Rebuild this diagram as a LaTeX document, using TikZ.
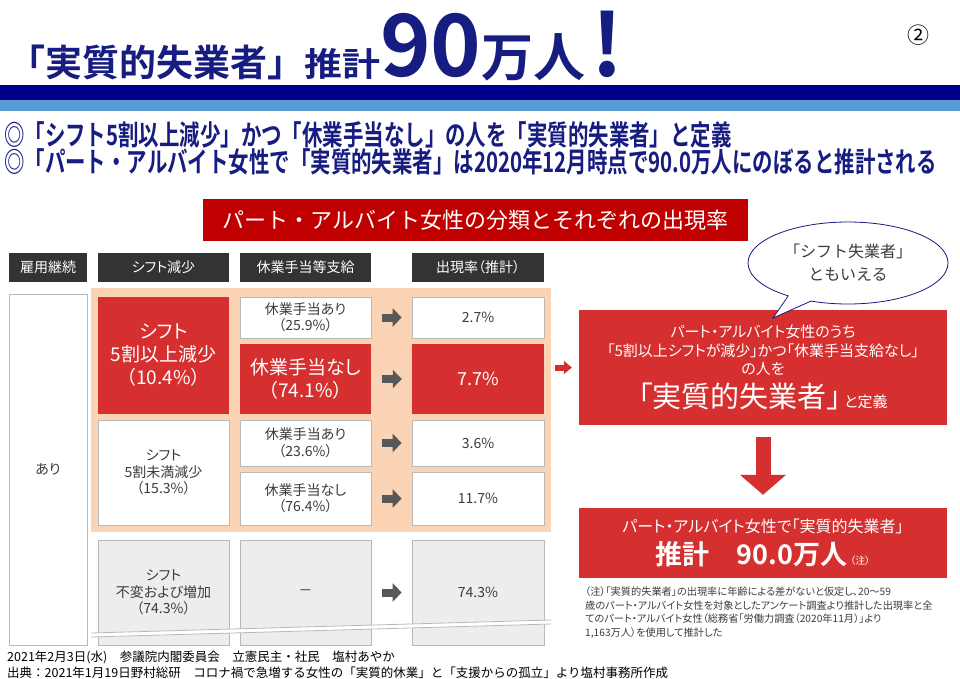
\documentclass[tikz,border=0pt]{standalone}
\usepackage{fontspec}
\setmainfont{Noto Sans CJK JP}[RawFeature=+palt, BoldFont={Noto Sans CJK JP Bold}]
\newfontfamily\jpfull{Noto Sans CJK JP}[BoldFont={Noto Sans CJK JP Bold}]
\newfontfamily\jpnarrow{Noto Sans CJK JP}[FakeStretch=0.73, BoldFont={Noto Sans CJK JP Bold}]
\newfontfamily\jpwide{Noto Sans CJK JP}[FakeStretch=1.15, BoldFont={Noto Sans CJK JP Bold}]
\usetikzlibrary{arrows.meta,shapes.callouts}

\definecolor{titlenavy}{RGB}{22,28,128}
\definecolor{barblue}{RGB}{0,0,140}
\definecolor{barlight}{RGB}{91,155,213}
\definecolor{bannerred}{RGB}{192,0,0}
\definecolor{cellred}{RGB}{214,47,47}
\definecolor{peach}{RGB}{250,212,180}
\definecolor{headgray}{RGB}{51,51,51}
\definecolor{linegray}{RGB}{185,185,185}
\definecolor{pale}{RGB}{237,237,237}
\definecolor{txtgray}{RGB}{60,60,60}
\definecolor{arrgray}{RGB}{88,88,88}
\newcommand{\fsz}[2]{\fontsize{#1}{#2}\selectfont}

\begin{document}
\begin{tikzpicture}[x=1pt, y=-1pt,
  head/.style={fill=headgray, text=white, minimum height=29, inner sep=0, font=\fsz{14}{16}},
  cell/.style={draw=linegray, fill=white, text=txtgray, align=center, inner sep=0, line width=0.7pt, font=\fsz{14}{16.5}},
  palecell/.style={cell, fill=pale},
  redcell/.style={fill=cellred, text=white, align=center, inner sep=0},
  garrow/.style={draw=arrgray, line width=8pt, -{Triangle[width=18pt,length=9pt]}, shorten <=11pt, shorten >=10pt},
  rarrow/.style={draw=cellred, line width=6pt, -{Triangle[width=13pt,length=8pt]}, shorten <=11pt, shorten >=7pt},
  darrow/.style={draw=cellred, line width=15pt, -{Triangle[width=45pt,length=20pt]}, shorten <=12pt, shorten >=13pt}]
  \useasboundingbox (0,0) rectangle (960,679);
  \fill[white] (0,0) rectangle (960,679);

  % Title
  \node[anchor=base west, inner sep=0, text=titlenavy, font=\jpfull\bfseries] (title) at (8,77)
    {\fsz{37}{40}「実質的失業者」{\jpwide\fsz{33}{36}推計}\fsz{86}{90}90\fsz{52}{60}万人\fsz{86}{90}\hspace{6pt}!};
  \node[font=\jpfull\fsz{22}{24}] (pagenum) at (918,35) {②};
  \fill[barblue] (0,85) rectangle (960,100);
  \fill[barlight] (0,100) rectangle (960,111);

  % Lead lines
  \node[anchor=west, inner sep=0, text=titlenavy, font=\jpnarrow\bfseries\fsz{28}{30}] (lead1) at (4,135)
    {◎「シフト5割以上減少」かつ「休業手当なし」の人を「実質的失業者」と定義};
  \node[anchor=west, inner sep=0, text=titlenavy, font=\jpnarrow\bfseries\fsz{28}{30}] (lead2) at (4,162)
    {◎「パート・アルバイト女性で「実質的失業者」は2020年12月時点で90.0万人にのぼると推計される};

  % Banner
  \node[fill=bannerred, text=white, minimum width=545, minimum height=42, inner sep=0, font=\jpfull\fsz{22}{24}] (banner) at (475.5,220)
    {パート・アルバイト女性の分類とそれぞれの出現率};

  % Table heads
  \node[head, minimum width=78] (h0) at (48,267.5) {雇用継続};
  \node[head, minimum width=131] (h1) at (163.5,267.5) {シフト減少};
  \node[head, minimum width=131] (h2) at (305.5,267.5) {休業手当等支給};
  \node[head, minimum width=132] (h3) at (478,267.5) {出現率（推計）};

  % Shaded band
  \fill[peach] (91,288) rectangle (551,532);

  % Cells
  \node[cell, minimum width=78, minimum height=351] (emp) at (48,469.5) {あり};
  \node[redcell, minimum width=131, minimum height=117, font=\fsz{19}{23}] (s1) at (163.5,355.5) {シフト\\5割以上減少\\（10.4\%）};
  \node[cell, minimum width=131, minimum height=105] (s2) at (163.5,472.5) {シフト\\5割未満減少\\（15.3\%）};
  \node[palecell, minimum width=131, minimum height=105] (s3) at (163.5,592.5) {シフト\\不変および増加\\（74.3\%）};

  \node[cell, minimum width=131, minimum height=41] (k1) at (305.5,317.5) {休業手当あり\\（25.9\%）};
  \node[redcell, minimum width=131, minimum height=70, font=\fsz{19}{23}] (k2) at (305.5,379) {休業手当なし\\（74.1\%）};
  \node[cell, minimum width=131, minimum height=46] (k3) at (305.5,443) {休業手当あり\\（23.6\%）};
  \node[cell, minimum width=131, minimum height=53] (k4) at (305.5,498.5) {休業手当なし\\（76.4\%）};
  \node[palecell, minimum width=131, minimum height=105] (k5) at (305.5,592.5) {－};

  \node[cell, minimum width=132, minimum height=41] (r1) at (478,317.5) {2.7\%};
  \node[redcell, minimum width=132, minimum height=70, font=\fsz{18}{20}] (r2) at (478,379) {7.7\%};
  \node[cell, minimum width=132, minimum height=46] (r3) at (478,443) {3.6\%};
  \node[cell, minimum width=132, minimum height=53] (r4) at (478,498.5) {11.7\%};
  \node[palecell, minimum width=132, minimum height=105] (r5) at (478,592.5) {74.3\%};

  \foreach \i in {1,...,5}
    \draw[garrow] (k\i) -- (r\i);

  % Break mark
  \fill[white] (91,633) -- (551,620) -- (551,624) -- (91,637) -- cycle;
  \draw[linegray, line width=0.8pt] (91,633) -- (551,620);
  \draw[linegray, line width=0.8pt] (91,637) -- (551,624);

  % Definition and estimate
  \node[fill=cellred, text=white, align=center, minimum width=368, minimum height=115, inner sep=0, font=\fsz{15}{18.5}] (def) at (763,367.5)
    {パート・アルバイト女性のうち\\「5割以上シフトが減少」かつ「休業手当支給なし」\\の人を\\[6pt]{\fsz{29}{30}「実質的失業者」}\hspace{3pt}{\fsz{15}{18}と定義}};
  \draw[rarrow] (r2.east |- def.west) -- (def.west);
  \node[fill=cellred, text=white, align=center, minimum width=368, minimum height=70, inner sep=0, font=\fsz{16}{22}] (est) at (763,543)
    {パート・アルバイト女性で「実質的失業者」\\[6pt]{\bfseries\fsz{27}{30}推計\quad 90.0万人}\hspace{3pt}{\fsz{10}{12}（注）}};
  \draw[darrow] (def) -- (est);

  % Bubble
  \node[ellipse callout, draw=titlenavy, fill=white, line width=0.8pt, minimum width=200, minimum height=82, inner sep=0,
    callout absolute pointer={(773,318)}, text=txtgray, align=center, font=\jpfull\fsz{16}{23}] (bubble) at (848,263)
    {「シフト失業者」\\ともいえる};

  % Note
  \node[anchor=north west, align=left, inner sep=0, text=txtgray, font=\fsz{10.2}{13.5}] (note) at (585,587)
    {（注）「実質的失業者」の出現率に年齢による差がないと仮定し、20〜59\\歳のパート・アルバイト女性を対象としたアンケート調査より推計した出現率と全\\てのパート・アルバイト女性（総務省「労働力調査（2020年11月）」より\\1,163万人）を使用して推計した};

  % Footer
  \node[anchor=west, inner sep=0, font=\jpfull\fsz{12.5}{14}] (foot1) at (7,657)
    {2021年2月3日(水)　参議院内閣委員会　立憲民主・社民　塩村あやか};
  \node[anchor=west, inner sep=0, font=\jpfull\fsz{12.5}{14}] (foot2) at (7,673)
    {出典：2021年1月19日野村総研　コロナ禍で急増する女性の「実質的休業」と「支援からの孤立」より塩村事務所作成};
\end{tikzpicture}
\end{document}
